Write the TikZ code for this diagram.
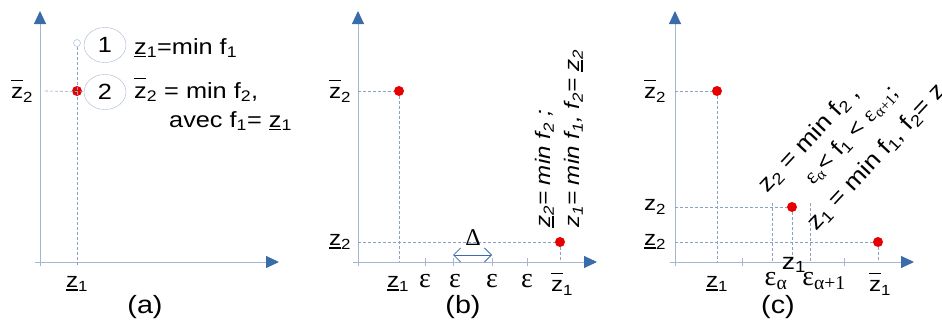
\documentclass[tikz,border=0pt]{standalone}
\usepackage{fontspec}
\setmainfont{Liberation Sans}[FakeStretch=1.15]
\newfontfamily\grkfont{Liberation Serif}
\usepackage{xcolor}
\usetikzlibrary{arrows.meta,shapes.geometric}

\definecolor{axline}{RGB}{165,182,208}
\definecolor{axtip}{RGB}{58,108,170}
\definecolor{dashcol}{RGB}{140,162,195}
\definecolor{dotred}{RGB}{232,0,0}

% z with bar under / over
\newcommand{\zlo}[1]{\leavevmode\rlap{\rule[-0.15em]{0.55em}{0.08em}}z\textsubscript{#1}}
\newcommand{\zhi}[1]{\leavevmode\rlap{\rule[0.85em]{0.55em}{0.05em}}z\textsubscript{#1}}
\newcommand{\eps}{{\grkfont ε}}

\begin{document}
\begin{tikzpicture}[x=1pt, y=-1pt,
  axis/.style={axline, line width=1pt, -{Triangle[length=13pt,width=12pt,color=axtip]}},
  guide/.style={dashcol, dashed, dash pattern=on 3pt off 2pt, line width=0.6pt},
  tick/.style={axline, line width=0.8pt},
  dot/.style={circle, fill=dotred, inner sep=0pt, minimum size=10pt},
  lab/.style={font=\fontsize{21}{24}\selectfont, inner sep=1pt},
  greek/.style={font=\grkfont\fontsize{28}{28}\selectfont, inner sep=1pt},
  captxt/.style={font=\fontsize{25}{28}\selectfont, inner sep=1pt},
  num/.style={draw=axline, ellipse, minimum width=42pt, minimum height=35pt, inner sep=0pt, font=\fontsize{22}{24}\selectfont},
  note/.style={font=\fontsize{22}{24}\selectfont, anchor=base west, inner sep=0pt},
  slant/.style={rotate=47, anchor=base west, inner sep=0pt, font=\fontsize{23}{28}\selectfont},
]
  \useasboundingbox (0,0) rectangle (942,327);

  % the three pairs of axes
  \foreach \ox/\pn in {0/a,318/b,635/c} {
    \coordinate (xs\pn) at (\ox+35,262);
    \coordinate (xe\pn) at (\ox+279,262);
    \coordinate (ys\pn) at (\ox+40,266);
    \coordinate (ye\pn) at (\ox+40,11);
    \draw[axis] (xs\pn) -- (xe\pn);
    \draw[axis] (ys\pn) -- (ye\pn);
  }

  % (a)
  \node[dot] (pa) at (77,91) {};
  \node[circle, draw=axline, inner sep=0pt, minimum size=7pt] (ha) at (77,43) {};
  \node[num] (n1) at (105,45) {1};
  \node[num] (n2) at (105,92) {2};
  \coordinate (pax) at (77,266);
  \coordinate (pay) at (45,91);
  \draw[guide] (ha) -- (pax);
  \draw[guide] (pay) -- (n2);
  \node[lab] (z2a) at (22,91) {\zhi{2}};
  \node[lab] (z1a) at (77,284) {\zlo{1}};
  \node[note] (t1) at (134,54) {\zlo{1}=min f\textsubscript{1}};
  \node[note] (t2) at (134,98) {\zhi{2} = min f\textsubscript{2},};
  \node[note] (t3) at (169,127) {avec f\textsubscript{1}= \zlo{1}};
  \node[captxt] (capa) at (145,307) {(a)};

  % (b)
  \node[dot] (pb1) at (399,91) {};
  \node[dot] (pb2) at (560,242) {};
  \coordinate (pb1x) at (399,262);
  \coordinate (pb1y) at (358,91);
  \coordinate (pb2x) at (560,262);
  \coordinate (pb2y) at (358,242);
  \draw[guide] (pb1y) -- (pb1) -- (pb1x);
  \draw[guide] (pb2y) -- (pb2) -- (pb2x);
  \foreach \t in {425,453,492,527}
    \draw[tick] (\t,258) -- (\t,266);
  \node[lab] (z2b) at (340,91) {\zhi{2}};
  \node[lab] (z2lb) at (340,242) {\zlo{2}};
  \node[lab] (z1b) at (398,284) {\zlo{1}};
  \foreach \t [count=\i] in {425,455,492,527}
    \node[greek] (eb\i) at (\t,281) {ε};
  \node[lab] (z1hb) at (562,284) {\zhi{1}};
  \node[font=\grkfont\fontsize{24}{26}\selectfont, inner sep=0pt] (dl) at (473,238) {Δ};
  \coordinate (dla) at (453,255);
  \coordinate (dlb) at (492,255);
  \draw[axtip, line width=0.8pt, {Straight Barb[length=7pt,width=14pt]}-{Straight Barb[length=7pt,width=14pt]}] (dla) -- (dlb);
  \node[rotate=90, anchor=south west, align=left, inner sep=0pt,
        font=\itshape\fontsize{21}{29}\selectfont] (rb) at (583,228)
    {\zlo{2}= min f\textsubscript{2} ;\\z\textsubscript{1}= min f\textsubscript{1}, f\textsubscript{2}= \zlo{2}};
  \node[captxt] (capb) at (463,307) {(b)};

  % (c)
  \node[dot] (pc1) at (717,91) {};
  \node[dot] (pc2) at (792,207) {};
  \node[dot] (pc3) at (878,242) {};
  \coordinate (pc1x) at (717,262);
  \coordinate (pc1y) at (675,91);
  \coordinate (pc2x) at (792,262);
  \coordinate (pc2y) at (675,207);
  \coordinate (pc3x) at (878,262);
  \coordinate (pc3y) at (675,242);
  \coordinate (ea) at (772,203);
  \coordinate (eax) at (772,262);
  \coordinate (eb) at (810,203);
  \coordinate (ebx) at (810,262);
  \draw[guide] (pc1y) -- (pc1) -- (pc1x);
  \draw[guide] (pc2y) -- (pc2) -- (pc2x);
  \draw[guide] (pc3y) -- (pc3) -- (pc3x);
  \draw[guide] (ea) -- (eax);
  \draw[guide] (eb) -- (ebx);
  \foreach \t in {742,844}
    \draw[tick] (\t,258) -- (\t,266);
  \node[lab] (z2c) at (655,91) {\zhi{2}};
  \node[lab] (z2mc) at (655,207) {z\textsubscript{2}};
  \node[lab] (z2lc) at (655,242) {\zlo{2}};
  \node[lab] (z1c) at (717,284) {\zlo{1}};
  \node[greek] (eac) at (776,281) {ε\textsubscript{α}};
  \node[lab, font=\fontsize{23}{24}\selectfont] (z1mc) at (794,265) {z\textsubscript{1}};
  \node[greek] (ebc) at (824,281) {ε\textsubscript{α+1}};
  \node[lab] (z1hc) at (880,284) {\zhi{1}};
  \node[slant] (s1) at (767,194) {z\textsubscript{2} = min f\textsubscript{2} ,};
  \node[slant, font=\fontsize{22}{24}\selectfont] (s2) at (813,186)
    {\eps\textsubscript{\grkfont α}< f\textsubscript{1} < \eps\textsubscript{\grkfont α+1};};
  \node[slant] (s3) at (816,232) {z\textsubscript{1} = min f\textsubscript{1}, f\textsubscript{2}= z\textsubscript{2}};
  \node[captxt] (capc) at (778,307) {(c)};
\end{tikzpicture}
\end{document}
